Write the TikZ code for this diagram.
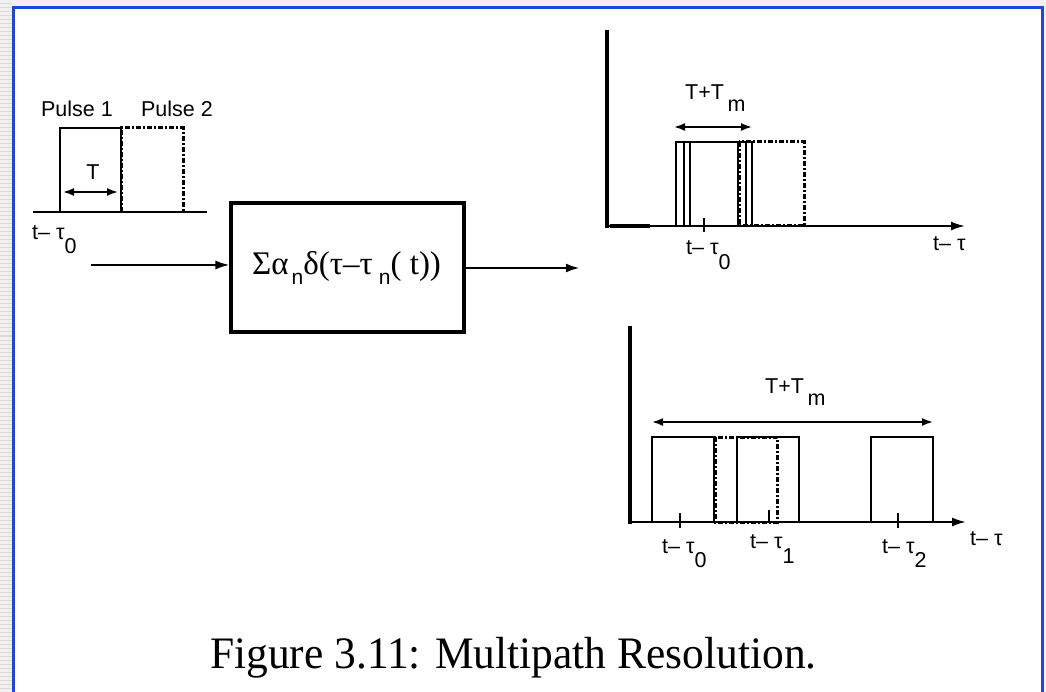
\documentclass[tikz,border=0pt]{standalone}
\usepackage{fontspec}
\setmainfont{Liberation Serif}
\newfontfamily\hv{Liberation Sans}
\usetikzlibrary{arrows.meta}
\definecolor{frameblue}{RGB}{35,70,215}
\newcommand\lw[2][14pt]{\raisebox{-#1}{#2}}
\begin{document}
\begin{tikzpicture}[x=1pt,y=-1pt,
  lab/.style={font=\hv\fontsize{21.5}{24}\selectfont, inner sep=0pt, anchor=base west},
  pulse/.style={line width=1.8pt},
  dpulse/.style={line width=3pt, dash pattern=on 5pt off 2pt on 2pt off 2pt},
  axisline/.style={line width=2pt},
  vaxis/.style={line width=4pt},
  tipped/.style={-{Latex[length=14pt,width=9pt]}},
  dim/.style={line width=1.8pt,{Latex[length=11pt,width=8pt]}-{Latex[length=11pt,width=8pt]}},
  ]
\useasboundingbox (0,0) rectangle (1046,692);
% background and frame
\fill[gray!12] (0,0) rectangle (1046,692);
\foreach \yy in {0,4,...,692} \draw[gray!30,line width=1pt] (0,\yy) -- (12,\yy);
\fill[white] (13,7) rectangle (1043,692);
\draw[frameblue,line width=3pt] (13.5,692) -- (13.5,7.5) -- (1042,7.5) -- (1042,692);

% input pulses
\draw[pulse] (33,212) -- (207,212);
\draw[pulse] (60,212) |- (121,128) -- (121,212);
\draw[dpulse] (121,212) |- (183,128) -- (183,212);
\node[lab,anchor=base] (p1) at (77,117) {Pulse 1};
\node[lab,anchor=base] (p2) at (177,117) {Pulse 2};
\coordinate (ta) at (63,192);
\coordinate (tb) at (118,192);
\draw[dim] (ta) -- (tb);
\node[lab,anchor=base] (tT) at (93,180) {T};
\node[lab] (l0) at (32,240) {t–~τ\lw{0}};

% channel box
\node[draw,line width=3.2pt,minimum width=233pt,minimum height=129pt,inner sep=0pt] (box) at (347.5,267.5) {};
\node[anchor=base west,inner sep=0pt,font=\fontsize{33}{36}\selectfont] (boxlab) at (252,275)
  {Σα\kern3pt\lw[10pt]{\hv\fontsize{21}{22}\selectfont n}δ(τ–τ\kern6pt\lw[10pt]{\hv\fontsize{21}{22}\selectfont n}( t))};
\coordinate (in) at (91,265);
\coordinate (out) at (580,268);
\draw[line width=1.8pt,tipped] (in) -- (box.west |- in);
\draw[line width=2.6pt,tipped] (box.east |- out) -- (out);

% top right plot
\draw[vaxis] (607,30) -- (607,228);
\draw[axisline,tipped] (607,226) -- (965,226);
\draw[line width=4pt] (610,226) -- (650,226);
\foreach \xx in {676,684,690} \draw[pulse] (\xx,226) |- (\xx+62,142) -- (\xx+62,226);
\draw[dpulse] (739,142) rectangle (804,226);
\draw[pulse] (704,218) -- (704,232);
\coordinate (ua) at (674,127);
\coordinate (ub) at (752,127);
\draw[dim] (ua) -- (ub);
\node[lab] (uT) at (685,100) {T+T\,\lw[12pt]{m}};
\node[lab] (u0) at (686,255) {t–~τ\lw[15pt]{0}};
\node[lab] (uax) at (933,251) {t–~τ};

% bottom right plot
\draw[vaxis] (630,326) -- (630,524);
\draw[axisline,tipped] (630,522) -- (966,522);
\foreach \xx in {652,737,871} \draw[pulse] (\xx,522) |- (\xx+62,437) -- (\xx+62,522);
\draw[dpulse] (715,437) rectangle (777,522);
\draw[pulse] (680,513) -- (680,528);
\draw[pulse] (769,510) -- (769,522);
\draw[pulse] (898,513) -- (898,528);
\coordinate (va) at (652,422);
\coordinate (vb) at (933,422);
\draw[dim] (va) -- (vb);
\node[lab] (vT) at (765,393) {T+T\,\lw[12pt]{m}};
\node[lab] (v0) at (662,553) {t–~τ\lw[14pt]{0}};
\node[lab] (v1) at (750,548) {t–~τ\lw[15pt]{1}};
\node[lab] (v2) at (882,553) {t–~τ\lw[14pt]{2}};
\node[lab] (vax) at (970,545) {t–~τ};

% caption
\node[font=\fontsize{45}{50}\selectfont,anchor=base west,inner sep=0pt,xscale=0.965] (cap) at (210,668) {Figure 3.11: Multipath Resolution.};
\end{tikzpicture}
\end{document}
